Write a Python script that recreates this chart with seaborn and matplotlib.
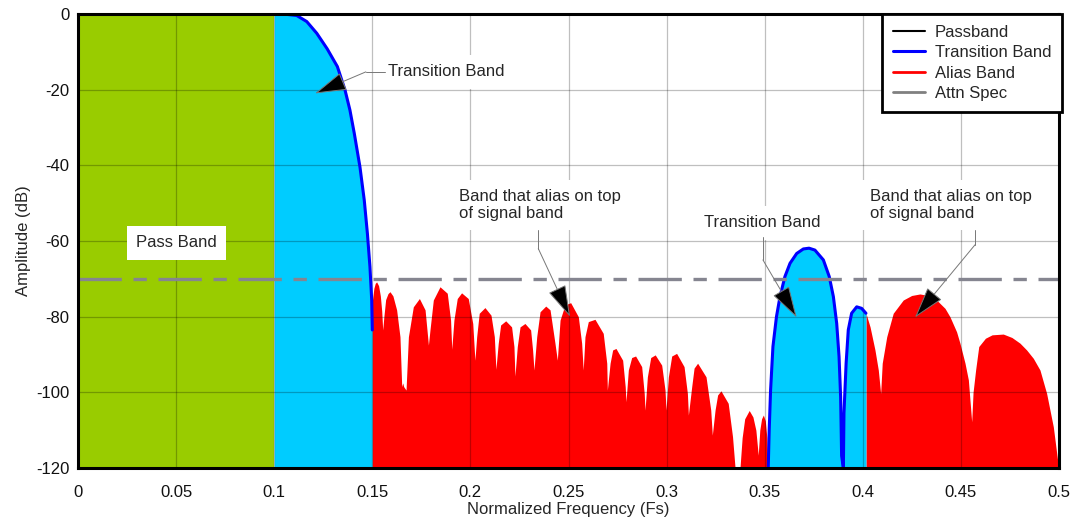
import matplotlib
matplotlib.use("Agg")
import matplotlib.pyplot as plt
import seaborn as sns
import pandas as pd

# ---------------- data ----------------
pass_f = [0.0, 0.1]
pass_db = [0.0, 0.0]

trans1_f = [0.1000, 0.1030, 0.1064, 0.1115, 0.1166, 0.1217, 0.1270, 0.1322, 0.1361, 0.1386, 0.1408,
            0.1437, 0.1459, 0.1475, 0.1488, 0.1497, 0.1500, 0.1500]
trans1_db = [0.0, 0.0, -0.1, -0.4, -2.0, -5.1, -9.2, -13.9, -20.1, -25.4, -31.5,
             -40.4, -49.2, -58.0, -66.8, -75.6, -83.5, -120.0]

alias1_f = [0.1500, 0.1500, 0.1508, 0.1515, 0.1522, 0.1532, 0.1541, 0.1548, 0.1553,
            0.1559, 0.1568, 0.1580, 0.1590, 0.1605, 0.1624, 0.1641, 0.1650, 0.1655, 0.1660,
            0.1672, 0.1684, 0.1709, 0.1740, 0.1769, 0.1782, 0.1786,
            0.1794, 0.1811, 0.1845, 0.1882, 0.1899, 0.1905,
            0.1916, 0.1933, 0.1955, 0.1989, 0.2012, 0.2023,
            0.2032, 0.2045, 0.2074, 0.2105, 0.2122, 0.2130,
            0.2142, 0.2154, 0.2180, 0.2210, 0.2222, 0.2227,
            0.2239, 0.2253, 0.2278, 0.2307, 0.2317, 0.2324,
            0.2338, 0.2355, 0.2384, 0.2406, 0.2431, 0.2443,
            0.2457, 0.2482, 0.2511, 0.2550, 0.2567, 0.2575,
            0.2584, 0.2601, 0.2635, 0.2677, 0.2695, 0.2698,
            0.2712, 0.2725, 0.2742, 0.2776, 0.2789, 0.2793,
            0.2805, 0.2822, 0.2842, 0.2873, 0.2886, 0.2890,
            0.2902, 0.2919, 0.2942, 0.2975, 0.2992, 0.2997,
            0.3009, 0.3026, 0.3051, 0.3089, 0.3106, 0.3111,
            0.3128, 0.3140, 0.3158, 0.3201, 0.3225, 0.3233,
            0.3247, 0.3260, 0.3277, 0.3314, 0.3336, 0.3349]
alias1_db = [-120.0, -76.0, -72.5, -71.2, -70.8, -71.8, -74.5, -78.5, -83.5,
             -80.0, -75.5, -73.9, -73.4, -74.5, -78.2, -85.3, -98.5, -97.5, -98.5,
             -99.4, -85.3, -77.4, -75.2, -78.2, -85.3, -87.5,
             -83.5, -75.6, -72.1, -73.8, -80.9, -88.6,
             -80.9, -75.2, -73.7, -75.2, -81.8, -91.5,
             -85.3, -79.1, -77.6, -79.6, -85.3, -93.9,
             -87.0, -82.2, -81.1, -82.7, -87.9, -95.7,
             -87.9, -82.7, -81.8, -83.5, -88.8, -94.1,
             -85.3, -78.7, -77.2, -78.2, -87.0, -91.5,
             -80.9, -76.9, -76.3, -80.0, -87.0, -94.1,
             -85.3, -81.3, -80.7, -84.4, -92.3, -99.4,
             -92.3, -88.8, -88.4, -91.5, -98.5, -102.5,
             -94.1, -90.8, -90.4, -93.2, -100.3, -104.7,
             -95.9, -90.8, -90.1, -92.8, -99.4, -104.7,
             -95.9, -90.4, -89.7, -93.2, -100.3, -106.0,
             -98.5, -93.6, -92.3, -95.9, -104.7, -111.3,
             -104.7, -100.7, -99.6, -102.9, -111.7, -120.0]

alias2_f = [0.3374, 0.3385, 0.3398, 0.3421, 0.3440, 0.3455, 0.3467, 0.3475, 0.3484, 0.3493, 0.3503,
            0.3511, 0.3515]
alias2_db = [-120.0, -112.0, -107.0, -104.8, -106.5, -110.0, -116.6, -110.0, -107.0, -106.0, -107.5,
             -112.0, -120.0]

trans2_f = [0.3518, 0.3523, 0.3530, 0.3542, 0.3560, 0.3578, 0.3603, 0.3629, 0.3663, 0.3697, 0.3726,
            0.3756, 0.3799, 0.3829, 0.3850, 0.3867, 0.3879, 0.3887, 0.3892, 0.3892,
            0.3901, 0.3904, 0.3915, 0.3926, 0.3943, 0.3969, 0.3994, 0.4016]
trans2_db = [-120.0, -109.9, -99.4, -87.9, -80.0, -74.7, -69.4, -65.9, -63.3, -62.1, -61.9,
             -62.4, -65.0, -69.4, -74.7, -81.8, -90.6, -101.2, -113.5, -120.0,
             -120.0, -105.5, -92.3, -83.5, -79.1, -77.4, -77.8, -79.1]

alias3_f = [0.4016, 0.4016, 0.4037, 0.4062, 0.4079, 0.4091,
            0.4099, 0.4122, 0.4155, 0.4206, 0.4249, 0.4291, 0.4334, 0.4376, 0.4419, 0.4444, 0.4478,
            0.4495, 0.4521, 0.4538, 0.4555,
            0.4562, 0.4575, 0.4591, 0.4625, 0.4659, 0.4716, 0.4760, 0.4801, 0.4835, 0.4869, 0.4903,
            0.4937, 0.4971, 0.4997, 0.5000]
alias3_db = [-120.0, -79.1, -82.7, -88.8, -94.1, -100.3,
             -92.3, -85.3, -79.1, -75.6, -74.4, -74.0, -74.4, -75.6, -77.8, -80.0, -84.0,
             -87.0, -92.3, -96.7, -107.8,
             -100.0, -94.1, -87.9, -85.7, -84.8, -84.6, -85.5, -87.0, -88.8, -91.0, -94.1,
             -100.3, -109.1, -119.6, -120.0]

attn_f = [0.0, 0.5]
attn_db = [-70.0, -70.0]

x_ticks = [0, 0.05, 0.1, 0.15, 0.2, 0.25, 0.3, 0.35, 0.4, 0.45, 0.5]
x_tick_labels = ["0", "0.05", "0.1", "0.15", "0.2", "0.25", "0.3", "0.35", "0.4", "0.45", "0.5"]
y_ticks = [-120, -100, -80, -60, -40, -20, 0]
y_tick_labels = ["-120", "-100", "-80", "-60", "-40", "-20", "0"]

# ---------------- style ----------------
sns.set_theme(style="white")
plt.rcParams['font.family'] = ['Liberation Sans', 'DejaVu Sans']

GREEN = "#99CC00"
CYAN = "#00CCFF"
RED = "#FF0000"
BLUE = "#0000FF"
GRAY = "#858590"
FS = 12

fig = plt.figure(figsize=(10.78, 5.19), dpi=100)
ax = fig.add_axes([78 / 1078, 1 - 468 / 519, (1059 - 78) / 1078, (468 - 14) / 519])

ymin = -120
ax.fill_between(pass_f, ymin, 0, color=GREEN, lw=0, zorder=1)
ax.fill_between(trans1_f, ymin, trans1_db, color=CYAN, lw=0, zorder=1)
for f, d in [(alias1_f, alias1_db), (alias2_f, alias2_db), (alias3_f, alias3_db)]:
    ax.fill_between(f, ymin, d, color=RED, lw=0, zorder=1)
ax.fill_between(trans2_f, ymin, trans2_db, color=CYAN, lw=0, zorder=1)

# lines
df_pass = pd.DataFrame({"f": pass_f, "db": pass_db})
sns.lineplot(data=df_pass, x="f", y="db", ax=ax, color="black", lw=1.5, zorder=3,
             label="Passband", sort=False)
df_t1 = pd.DataFrame({"f": trans1_f[:-1], "db": trans1_db[:-1]})
sns.lineplot(data=df_t1, x="f", y="db", ax=ax, color=BLUE, lw=2.2, zorder=3,
             label="Transition Band", sort=False)
df_t2 = pd.DataFrame({"f": trans2_f, "db": trans2_db})
sns.lineplot(data=df_t2, x="f", y="db", ax=ax, color=BLUE, lw=2.2, zorder=3, sort=False,
             legend=False)
ax.plot([], [], color=RED, lw=2, label="Alias Band")
df_attn = pd.DataFrame({"f": attn_f, "db": attn_db})
sns.lineplot(data=df_attn, x="f", y="db", ax=ax, color=GRAY, lw=2.4, zorder=4, sort=False,
             legend=False)
ax.lines[-1].set_dashes([13, 3.5, 4, 3.5])
ax.plot([], [], color="#808080", lw=2, label="Attn Spec")

# grid on top of fills
for xv in x_ticks[1:-1]:
    ax.axvline(xv, color="black", alpha=0.25, lw=0.9, zorder=2)
for yv in y_ticks[1:-1]:
    ax.axhline(yv, color="black", alpha=0.25, lw=0.9, zorder=2)

ax.set_xlim(0, 0.5)
ax.set_ylim(-120, 0)
ax.set_xticks(x_ticks)
ax.set_xticklabels(x_tick_labels, fontsize=FS)
ax.set_yticks(y_ticks)
ax.set_yticklabels(y_tick_labels, fontsize=FS)
ax.tick_params(axis="x", length=0, pad=12, colors="#111111")
ax.tick_params(axis="y", length=0, pad=6, colors="#111111")
ax.set_xlabel("Normalized Frequency (Fs)", fontsize=FS, labelpad=2)
ax.set_ylabel("Amplitude (dB)", fontsize=FS, labelpad=4)
for s in ax.spines.values():
    s.set_color("black")
    s.set_linewidth(2.2)
    s.set_zorder(6)

leg = ax.legend(loc="upper right", bbox_to_anchor=(1.003, 1.0), fontsize=FS, frameon=True,
                fancybox=False, borderaxespad=0.0, handlelength=1.9, handletextpad=0.6,
                labelspacing=0.32, borderpad=0.65, framealpha=1)
leg.get_frame().set_edgecolor("black")
leg.get_frame().set_linewidth(2)
leg.set_zorder(10)

# annotations
box = dict(boxstyle="square,pad=0.55", fc="white", ec="none")
LEAD = "#777777"
arrow = dict(arrowstyle="-|>,head_length=1.7,head_width=0.5", fc="black", ec=LEAD,
             lw=0.7, shrinkA=0, shrinkB=0, mutation_scale=12)

ax.text(0.05, -60.5, "Pass Band", fontsize=FS, ha="center", va="center", bbox=box, zorder=7)

# Transition band (left)
ax.text(0.158, -15.3, "Transition Band", fontsize=FS, ha="left", va="center", bbox=box, zorder=7)
ax.plot([0.1565, 0.1467], [-15.3, -15.3], color=LEAD, lw=0.7, zorder=7)
ax.annotate("", xy=(0.1208, -21.0), xytext=(0.1467, -15.3), arrowprops=arrow, zorder=8)

# Band that alias (middle)
ax.text(0.1942, -50.5, "Band that alias on top\nof signal band", fontsize=FS, ha="left",
        va="center", bbox=box, zorder=7, linespacing=1.1)
ax.plot([0.2346, 0.2346], [-57.0, -62.0], color=LEAD, lw=0.7, zorder=7)
ax.annotate("", xy=(0.2508, -80.0), xytext=(0.2346, -62.0), arrowprops=arrow, zorder=8)

# Transition band (right)
ax.text(0.349, -55.2, "Transition Band", fontsize=FS, ha="center", va="center", bbox=box, zorder=7)
ax.plot([0.3491, 0.3491], [-59.0, -65.0], color=LEAD, lw=0.7, zorder=7)
ax.annotate("", xy=(0.3663, -80.2), xytext=(0.3491, -65.0), arrowprops=arrow, zorder=8)

# Band that alias (right)
ax.text(0.4037, -50.5, "Band that alias on top\nof signal band", fontsize=FS, ha="left",
        va="center", bbox=box, zorder=7, linespacing=1.1)
ax.plot([0.4572, 0.4572], [-57.0, -61.0], color=LEAD, lw=0.7, zorder=7)
ax.annotate("", xy=(0.4266, -80.2), xytext=(0.4572, -61.0), arrowprops=arrow, zorder=8)

fig.savefig("out.png", dpi=100)
